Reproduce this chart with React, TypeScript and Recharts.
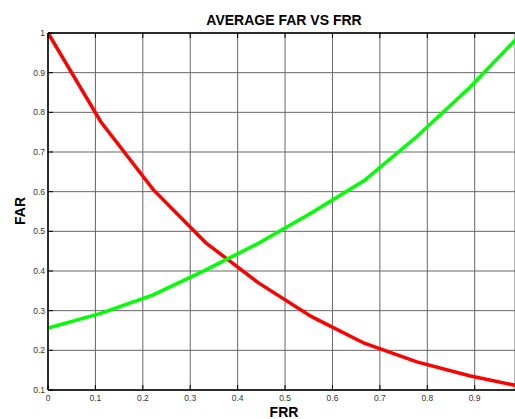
import React from 'react';
import { LineChart, Line, XAxis, YAxis, CartesianGrid } from 'recharts';

const frr = [0, 0.111, 0.222, 0.333, 0.444, 0.556, 0.667, 0.778, 0.889, 1.0];
const farRed = [1.0, 0.777, 0.605, 0.471, 0.37, 0.285, 0.218, 0.171, 0.136, 0.108];
const farGreen = [0.256, 0.293, 0.34, 0.403, 0.47, 0.547, 0.628, 0.739, 0.862, 1.0];
const xTicks = [0, 0.1, 0.2, 0.3, 0.4, 0.5, 0.6, 0.7, 0.8, 0.9];
const yTicks = [0.1, 0.2, 0.3, 0.4, 0.5, 0.6, 0.7, 0.8, 0.9, 1];

const data = frr.map((x, i) => ({ frr: x, red: farRed[i], green: farGreen[i] }));

const FONT = '"Liberation Sans", Arial, sans-serif';

const BottomTick = (props: any) => {
  const { x, y, payload } = props;
  return (
    <g>
      <line x1={x} y1={y} x2={x} y2={y - 5} stroke="#000" strokeWidth={1} />
      <text x={x} y={y + 11} textAnchor="middle" fontSize={8.5} fill="#333" fontFamily={FONT}>
        {payload.value}
      </text>
    </g>
  );
};

const TopTick = (props: any) => {
  const { x, y } = props;
  return <line x1={x} y1={y} x2={x} y2={y + 5} stroke="#000" strokeWidth={1} />;
};

const LeftTick = (props: any) => {
  const { x, y, payload } = props;
  return (
    <g>
      <line x1={x} y1={y} x2={x + 5} y2={y} stroke="#000" strokeWidth={1} />
      <text x={x - 3} y={y + 3} textAnchor="end" fontSize={8.5} fill="#333" fontFamily={FONT}>
        {payload.value}
      </text>
    </g>
  );
};

export default function App() {
  return (
    <div style={{ position: 'absolute', left: 0, top: 0, width: 515, height: 419, background: '#fff' }}>
      <LineChart
        width={515}
        height={419}
        data={data}
        margin={{ top: 23, right: 0, bottom: 9, left: 8 }}
      >
        <CartesianGrid xAxisId="bottom" stroke="#666" strokeWidth={1} />
        <XAxis
          xAxisId="bottom"
          dataKey="frr"
          type="number"
          domain={[0, 0.985]}
          allowDataOverflow
          ticks={xTicks}
          interval={0}
          tickLine={false}
          tickSize={0}
          tickMargin={0}
          height={20}
          axisLine={{ stroke: '#000', strokeWidth: 1.5 }}
          tick={<BottomTick />}
        />
        <XAxis
          xAxisId="top"
          orientation="top"
          dataKey="frr"
          type="number"
          domain={[0, 0.985]}
          allowDataOverflow
          ticks={xTicks}
          interval={0}
          tickLine={false}
          tickSize={0}
          tickMargin={0}
          height={10}
          axisLine={{ stroke: '#000', strokeWidth: 1.5 }}
          tick={<TopTick />}
        />
        <YAxis
          type="number"
          domain={[0.1, 1]}
          ticks={yTicks}
          interval={0}
          width={40}
          tickLine={false}
          tickSize={0}
          tickMargin={0}
          axisLine={{ stroke: '#000', strokeWidth: 1.5 }}
          tick={<LeftTick />}
        />
        <Line
          xAxisId="bottom"
          type="linear"
          dataKey="red"
          stroke="#ff0000"
          strokeWidth={3.5}
          dot={false}
          isAnimationActive={false}
        />
        <Line
          xAxisId="bottom"
          type="linear"
          dataKey="green"
          stroke="#00ff00"
          strokeWidth={3.5}
          dot={false}
          isAnimationActive={false}
        />
        <text x={284} y={25} textAnchor="middle" fontSize={14} fontWeight="bold" fontFamily={FONT} fill="#000">
          AVERAGE FAR VS FRR
        </text>
        <text x={284} y={417} textAnchor="middle" fontSize={14} fontWeight="bold" fontFamily={FONT} fill="#000">
          FRR
        </text>
        <text
          x={25}
          y={211}
          textAnchor="middle"
          fontSize={14}
          fontWeight="bold"
          fontFamily={FONT}
          fill="#000"
          transform="rotate(-90 25 211)"
        >
          FAR
        </text>
      </LineChart>
    </div>
  );
}
